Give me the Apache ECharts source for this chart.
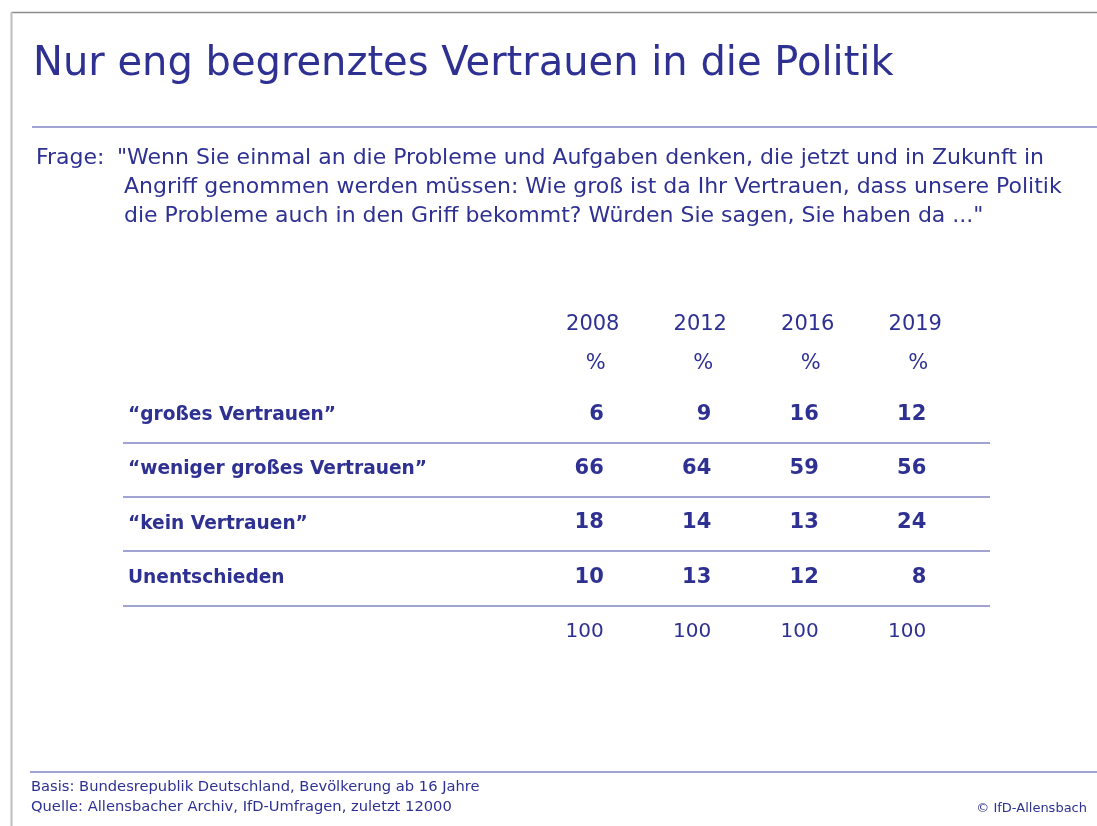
<!DOCTYPE html>
<html>
<head>
<meta charset="utf-8">
<script src="https://cdn.jsdelivr.net/npm/echarts@6/dist/echarts.min.js"></script>
<style>
  html, body { margin: 0; padding: 0; background: #fff; }
  #chart { width: 1097px; height: 826px; }
</style>
</head>
<body>
<div id="chart"></div>
<script>
// table content
var years = ['2008', '2012', '2016', '2019'];
var rowLabels = ['\u201cgroßes Vertrauen\u201d', '\u201cweniger großes Vertrauen\u201d', '\u201ckein Vertrauen\u201d', 'Unentschieden', ''];
var grossesVertrauen = [6, 9, 16, 12];
var wenigerVertrauen = [66, 64, 59, 56];
var keinVertrauen = [18, 14, 13, 24];
var unentschieden = [10, 13, 12, 8];
var summe = [100, 100, 100, 100];

var blue = '#2e3192';
var rule = '#8284c3';
var font = 'DejaVu Sans';

var chart = echarts.init(document.getElementById('chart'));

function rowSeries(name, values, rowIdx, bold) {
  return {
    name: name,
    type: 'scatter',
    xAxisIndex: 1,
    yAxisIndex: 1,
    symbolSize: 1,
    itemStyle: { color: 'rgba(0,0,0,0)', opacity: 1 },
    silent: true,
    data: values.map(function (v, i) { return { value: [i, rowIdx], v: v }; }),
    label: {
      show: true,
      position: 'inside',
      align: 'right',
      offset: [8, -1],
      formatter: function (p) { return String(p.data.v); },
      color: blue,
      opacity: 1,
      fontFamily: font,
      fontWeight: bold ? 'bold' : 'normal',
      fontSize: bold ? 21 : 20
    }
  };
}

var option = {
  backgroundColor: '#fff',
  animation: false,
  grid: [
    { left: 123, right: 107, top: 388, bottom: 166 },
    { left: 542, right: 125, top: 388, bottom: 166 }
  ],
  xAxis: [
    { gridIndex: 0, type: 'value', show: false },
    {
      gridIndex: 1,
      type: 'category',
      position: 'top',
      data: years,
      axisLine: { show: false },
      axisTick: { show: false },
      splitLine: { show: false },
      axisLabel: {
        interval: 0,
        margin: 5,
        formatter: function (v) { return '{y|' + v + '}\n{p|%}'; },
        rich: {
          y: { color: blue, fontFamily: font, fontSize: 21, lineHeight: 39, padding: [0, 6, 0, 0] },
          p: { color: blue, fontFamily: font, fontSize: 21, lineHeight: 39 }
        }
      }
    }
  ],
  yAxis: [
    {
      gridIndex: 0,
      type: 'category',
      inverse: true,
      data: rowLabels,
      axisLine: { show: false },
      axisTick: { show: false },
      axisLabel: {
        inside: true,
        interval: 0,
        margin: 5,
        color: blue,
        fontFamily: font,
        fontWeight: 'bold',
        fontSize: 18.6,
        verticalAlign: 'middle',
        padding: [0, 0, 3, 0]
      },
      splitLine: {
        show: true,
        interval: 0,
        lineStyle: { color: ['rgba(0,0,0,0)', rule, rule, rule, rule, 'rgba(0,0,0,0)'], width: 1.5 }
      }
    },
    {
      gridIndex: 1,
      type: 'category',
      inverse: true,
      data: rowLabels,
      show: false
    }
  ],
  series: [
    rowSeries('großes Vertrauen', grossesVertrauen, 0, true),
    rowSeries('weniger großes Vertrauen', wenigerVertrauen, 1, true),
    rowSeries('kein Vertrauen', keinVertrauen, 2, true),
    rowSeries('Unentschieden', unentschieden, 3, true),
    rowSeries('Summe', summe, 4, false)
  ],
  graphic: [
    // frame
    { type: 'line', shape: { x1: 11, y1: 12.5, x2: 1097, y2: 12.5 }, style: { stroke: '#8c8c8c', lineWidth: 1.5 }, silent: true },
    { type: 'line', shape: { x1: 11.5, y1: 12, x2: 11.5, y2: 826 }, style: { stroke: '#bdbdbd', lineWidth: 2 }, silent: true },
    { type: 'line', shape: { x1: 32, y1: 127, x2: 1097, y2: 127 }, style: { stroke: rule, lineWidth: 1.5 }, silent: true },
    { type: 'line', shape: { x1: 30, y1: 772, x2: 1097, y2: 772 }, style: { stroke: rule, lineWidth: 1.5 }, silent: true },
    // title
    { type: 'text', left: 33, top: 45, style: { text: 'Nur eng begrenztes Vertrauen in die Politik', fill: blue, font: '40px "DejaVu Sans"' } },
    // question
    { type: 'text', left: 36, top: 147, style: { text: 'Frage:', fill: blue, font: '22px "DejaVu Sans"' } },
    { type: 'text', left: 117, top: 147, style: { text: '"Wenn Sie einmal an die Probleme und Aufgaben denken, die jetzt und in Zukunft in', fill: blue, font: '22px "DejaVu Sans"' } },
    { type: 'text', left: 124, top: 176, style: { text: 'Angriff genommen werden müssen: Wie groß ist da Ihr Vertrauen, dass unsere Politik', fill: blue, font: '22px "DejaVu Sans"' } },
    { type: 'text', left: 124, top: 205, style: { text: 'die Probleme auch in den Griff bekommt? Würden Sie sagen, Sie haben da ..."', fill: blue, font: '22px "DejaVu Sans"' } },
    // footer
    { type: 'text', left: 31, top: 780, style: { text: 'Basis: Bundesrepublik Deutschland, Bevölkerung ab 16 Jahre', fill: blue, font: '14.7px "DejaVu Sans"' } },
    { type: 'text', left: 31, top: 800, style: { text: 'Quelle: Allensbacher Archiv, IfD-Umfragen, zuletzt 12000', fill: blue, font: '14.7px "DejaVu Sans"' } },
    { type: 'text', right: 10, top: 802, style: { text: '© IfD-Allensbach', fill: blue, font: '13px "DejaVu Sans"' } }
  ]
};

chart.setOption(option);
</script>
</body>
</html>
